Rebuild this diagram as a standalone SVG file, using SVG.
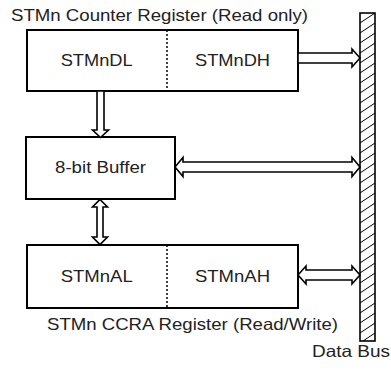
<svg xmlns="http://www.w3.org/2000/svg" width="391" height="370" viewBox="0 0 391 370">
<style>
text{font-family:"Liberation Sans",Arial,sans-serif;font-size:16.5px;fill:#222}
.box{fill:#fff;stroke:#000;stroke-width:2}
.div{stroke:#000;stroke-width:1.5;stroke-dasharray:2,2}
.arr{fill:#fff;stroke:#000;stroke-width:1.6;stroke-linejoin:miter}
</style>
<defs>
<pattern id="hatch" patternUnits="userSpaceOnUse" width="15" height="10" x="360" y="13">
<rect width="15" height="10" fill="#fff"/>
<path d="M-2,11.3 L17,-1.3 M-2,21.3 L17,8.7 M-2,1.3 L17,-11.3" stroke="#000" stroke-width="1"/>
</pattern>
</defs>
<text x="11" y="21" textLength="297" lengthAdjust="spacingAndGlyphs">STMn Counter Register (Read only)</text>
<g id="counter">
<rect class="box" x="27" y="30" width="271" height="61"/>
<line class="div" x1="167" y1="30" x2="167" y2="91"/>
<text x="96.7" y="66" text-anchor="middle" textLength="72" lengthAdjust="spacingAndGlyphs">STMnDL</text>
<text x="232.5" y="66" text-anchor="middle" textLength="75" lengthAdjust="spacingAndGlyphs">STMnDH</text>
</g>
<g id="buffer">
<rect class="box" x="26" y="137" width="149" height="62"/>
<text x="100.5" y="173" text-anchor="middle" textLength="91" lengthAdjust="spacingAndGlyphs">8-bit Buffer</text>
</g>
<g id="ccra">
<rect class="box" x="27" y="245" width="271" height="63"/>
<line class="div" x1="167" y1="245" x2="167" y2="308"/>
<text x="96.7" y="282" text-anchor="middle" textLength="72" lengthAdjust="spacingAndGlyphs">STMnAL</text>
<text x="232.5" y="282" text-anchor="middle" textLength="75" lengthAdjust="spacingAndGlyphs">STMnAH</text>
</g>
<text x="47" y="330" textLength="291" lengthAdjust="spacingAndGlyphs">STMn CCRA Register (Read/Write)</text>
<g id="databus">
<rect x="360" y="13" width="15" height="328" fill="url(#hatch)" stroke="#000" stroke-width="1.6"/>
<text x="312" y="357" textLength="78" lengthAdjust="spacingAndGlyphs">Data Bus</text>
</g>
<g id="connectors">
<polygon class="arr" points="298,53 352,53 352,49 360,58 352,67 352,63 298,63"/>
<polygon class="arr" points="97,91 104,91 104,130 108.5,130 100.5,137.5 92.5,130 97,130"/>
<polygon class="arr" points="175,167 183,157.5 183,162 352,162 352,157.5 360,167 352,176.5 352,172 183,172 183,176.5"/>
<polygon class="arr" points="100,199.5 107.5,207 103,207 103,237 107.5,237 100,244.5 92.5,237 97,237 97,207 92.5,207"/>
<polygon class="arr" points="298,275 306,266 306,270 352,270 352,266 360,275 352,284 352,280 306,280 306,284"/>
</g>
</svg>
